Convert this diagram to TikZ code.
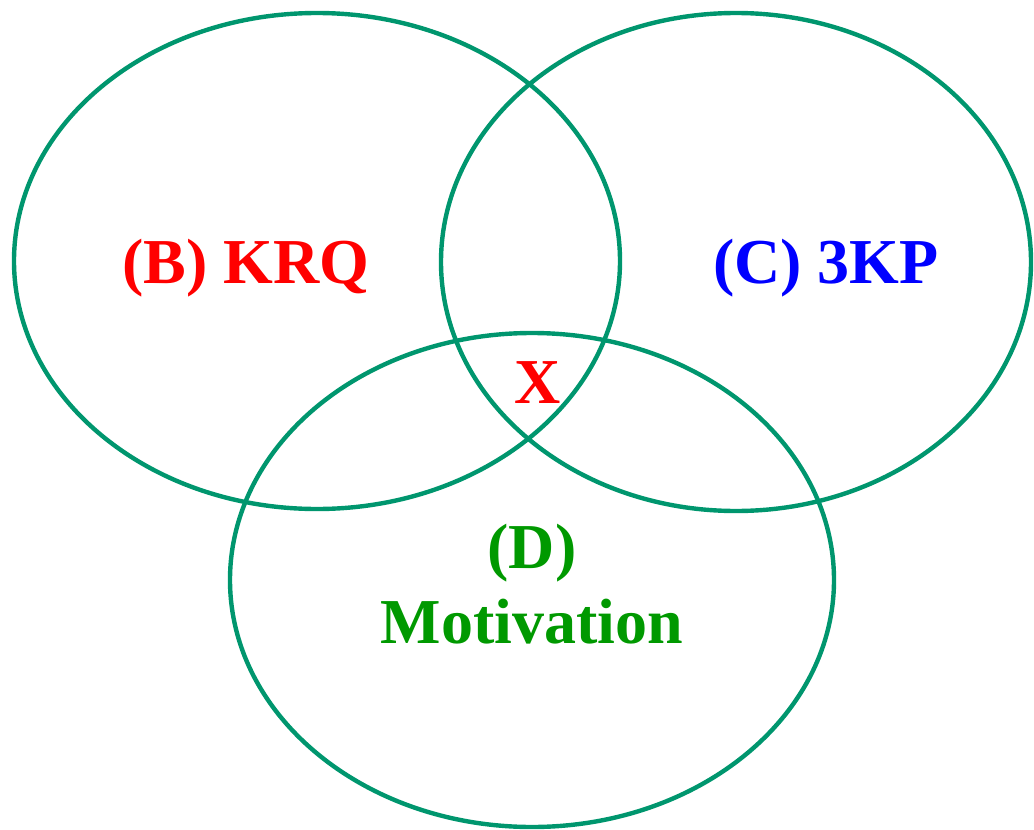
\documentclass[tikz,border=0pt]{standalone}
\usepackage{fontspec}
\setmainfont{Liberation Serif}
\usepackage{xcolor}
\usetikzlibrary{positioning}
\definecolor{venngreen}{RGB}{0,150,110}
\definecolor{vennred}{RGB}{255,0,0}
\definecolor{vennblue}{RGB}{0,0,255}
\definecolor{venntext}{RGB}{0,153,0}
\tikzset{
    setring/.style={draw=venngreen, line width=2.2pt},
    setlabel/.style={font=\fontsize{32}{38}\selectfont\bfseries, anchor=base, inner sep=0pt}
}
\begin{document}
\begin{tikzpicture}[x=0.5pt,y=-0.5pt]
    \useasboundingbox (0,0) rectangle (1034,830);
    \draw[setring] (317,261) ellipse [x radius=303, y radius=248];
    \draw[setring] (736,262) ellipse [x radius=295, y radius=249];
    \draw[setring] (532,580) ellipse [x radius=302, y radius=247];
    \node[setlabel, text=vennred] (krq) at (246,283) {(B) KRQ};
    \node[setlabel, text=vennblue] (kp) at (826,283) {(C) 3KP};
    \node[setlabel, text=vennred] (cross) at (538,403) {X};
    \node[setlabel, text=venntext] (dlabel) at (532,568) {(D)};
    \node[setlabel, text=venntext] (motiv) at (532,643) {Motivation};
\end{tikzpicture}
\end{document}
